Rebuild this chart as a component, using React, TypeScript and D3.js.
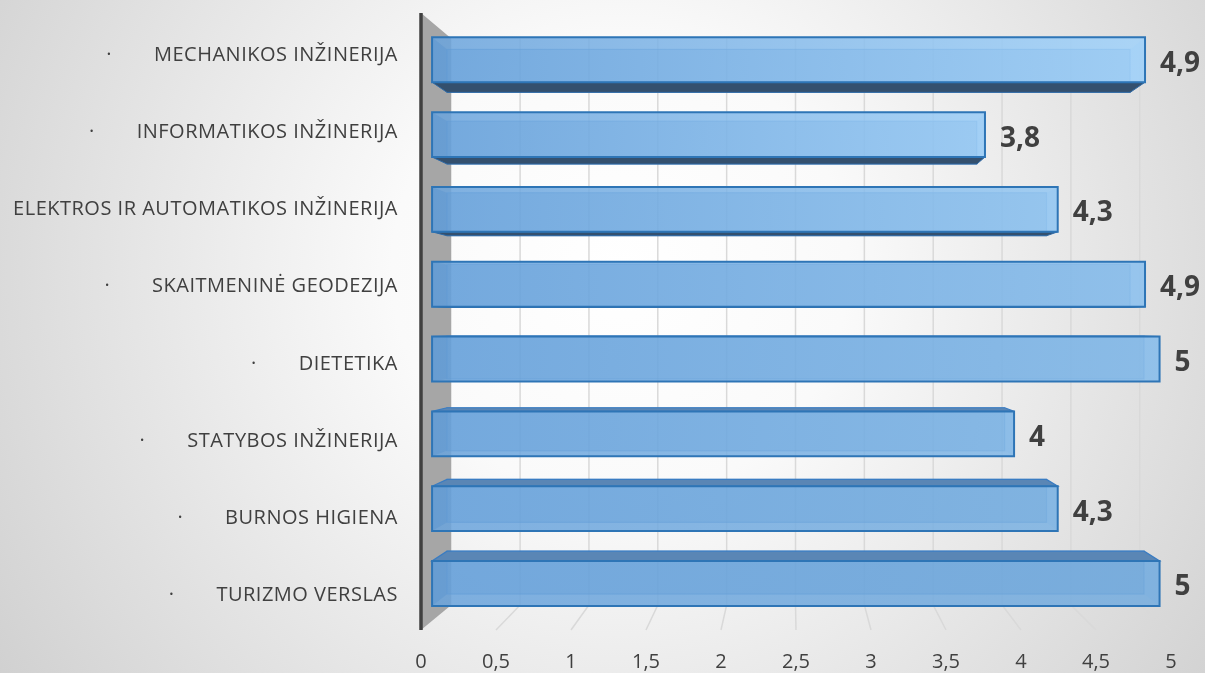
import React, { useRef, useEffect } from 'react';
import * as d3 from 'd3';

const categories = [
  'MECHANIKOS INŽINERIJA',
  'INFORMATIKOS INŽINERIJA',
  'ELEKTROS IR AUTOMATIKOS INŽINERIJA',
  'SKAITMENINĖ GEODEZIJA',
  'DIETETIKA',
  'STATYBOS INŽINERIJA',
  'BURNOS HIGIENA',
  'TURIZMO VERSLAS',
];
const values = [4.9, 3.8, 4.3, 4.9, 5, 4, 4.3, 5];
const valueLabels = ['4,9', '3,8', '4,3', '4,9', '5', '4', '4,3', '5'];
const tickValues = [0, 0.5, 1, 1.5, 2, 2.5, 3, 3.5, 4, 4.5, 5];
const tickLabels = ['0', '0,5', '1', '1,5', '2', '2,5', '3', '3,5', '4', '4,5', '5'];

const W = 1205;
const H = 673;
// perspective: vanishing point and depth scales (1 = front plane)
const VX = 790;
const VY = 325;
const S_WALL = 0.918;
const S_BAR_FRONT = 0.97;
const S_BAR_BACK = 0.9295;
const PLOT_LEFT = 421;
const PLOT_RIGHT = 1171;
const PLOT_TOP = 13;
const PLOT_BOTTOM = 630;

const App = () => {
  const ref = useRef<SVGSVGElement>(null);

  useEffect(() => {
    const svg = d3.select(ref.current);
    svg.selectAll('*').remove();

    const x = d3.scaleLinear().domain([0, 5]).range([PLOT_LEFT, PLOT_RIGHT]);
    const y = d3.scaleBand<string>()
      .domain(categories)
      .range([PLOT_TOP, PLOT_BOTTOM])
      .paddingInner(0.4)
      .paddingOuter(0.2);
    const bw = y.bandwidth();

    const proj = (v: number, yy: number, s: number): [number, number] =>
      [VX + (x(v) - VX) * s, VY + (yy - VY) * s];

    const defs = svg.append('defs');
    const bg = defs.append('radialGradient')
      .attr('id', 'bg')
      .attr('gradientUnits', 'userSpaceOnUse')
      .attr('cx', 620).attr('cy', 270).attr('r', 760);
    bg.append('stop').attr('offset', 0).attr('stop-color', '#ffffff');
    bg.append('stop').attr('offset', 0.3).attr('stop-color', '#fafafa');
    bg.append('stop').attr('offset', 1).attr('stop-color', '#cfcfcf');

    const rightColor = d3.interpolateRgb('#a2d3fb', '#72aadd');
    categories.forEach((c, i) => {
      const g = defs.append('linearGradient').attr('id', `bar${i}`)
        .attr('x1', 0).attr('x2', 1).attr('y1', 0).attr('y2', 0);
      g.append('stop').attr('offset', 0).attr('stop-color', '#66a0da');
      g.append('stop').attr('offset', 1).attr('stop-color', rightColor(i / (categories.length - 1)));
    });

    svg.append('rect').attr('width', W).attr('height', H).attr('fill', 'url(#bg)');

    // gridlines: back wall + floor
    const grid = svg.append('g')
      .attr('fill', 'none')
      .attr('stroke', '#d9d9d9')
      .attr('stroke-width', 1.5);
    tickValues.filter(t => t > 0).forEach(t => {
      grid.append('path').attr('d', d3.line()([
        proj(t, PLOT_TOP, S_WALL),
        proj(t, PLOT_BOTTOM, S_WALL),
        proj(t, PLOT_BOTTOM, 1),
      ]));
    });

    // side wall
    svg.append('path')
      .attr('d', d3.line()([
        proj(0, PLOT_TOP, 1),
        proj(0, PLOT_TOP, S_WALL),
        proj(0, PLOT_BOTTOM, S_WALL),
        proj(0, PLOT_BOTTOM, 1),
      ]) + 'Z')
      .attr('fill', '#a6a6a6');
    svg.append('path')
      .attr('d', d3.line()([proj(0, PLOT_TOP, 1), proj(0, PLOT_BOTTOM, 1)]))
      .attr('stroke', '#404040')
      .attr('stroke-width', 3.5);

    const poly = (pts: [number, number][]) => d3.line()(pts) + 'Z';

    const bars = svg.append('g');
    categories.forEach((c, i) => {
      const v = values[i];
      const y0 = y(c)!;
      const y1 = y0 + bw;
      const fTL = proj(0, y0, S_BAR_FRONT), fTR = proj(v, y0, S_BAR_FRONT);
      const fBL = proj(0, y1, S_BAR_FRONT), fBR = proj(v, y1, S_BAR_FRONT);
      const bTL = proj(0, y0, S_BAR_BACK), bTR = proj(v, y0, S_BAR_BACK);
      const bBL = proj(0, y1, S_BAR_BACK), bBR = proj(v, y1, S_BAR_BACK);
      const g = bars.append('g');

      // back face
      g.append('path').attr('d', poly([bTL, bTR, bBR, bBL]))
        .attr('fill', '#5b9bd5').attr('fill-opacity', 0.55)
        .attr('stroke', '#3e80c6').attr('stroke-opacity', 0.5).attr('stroke-width', 1.2);
      // inner faces seen through
      g.append('path').attr('d', poly([fTL, bTL, bBL, fBL]))
        .attr('fill', '#4281c0').attr('fill-opacity', 0.55);
      g.append('path').attr('d', poly([fTR, bTR, bBR, fBR]))
        .attr('fill', '#8ec4f2').attr('fill-opacity', 0.5);
      if (y1 < VY) {
        g.append('path').attr('d', poly([fTL, fTR, bTR, bTL]))
          .attr('fill', '#9ccbf2').attr('fill-opacity', 0.35);
      } else if (y0 > VY) {
        g.append('path').attr('d', poly([fBL, fBR, bBR, bBL]))
          .attr('fill', '#9ccbf2').attr('fill-opacity', 0.35);
      }
      // outer visible face
      if (y1 < VY) {
        g.append('path').attr('d', poly([fBL, fBR, bBR, bBL]))
          .attr('fill', '#34506e').attr('stroke', '#2f6aa6').attr('stroke-width', 1);
      } else if (y0 > VY) {
        g.append('path').attr('d', poly([fTL, fTR, bTR, bTL]))
          .attr('fill', '#5a86b5').attr('stroke', '#3a7cc2').attr('stroke-width', 1.2);
      }
      // front face
      g.append('path').attr('d', poly([fTL, fTR, fBR, fBL]))
        .attr('fill', `url(#bar${i})`).attr('fill-opacity', 0.78)
        .attr('stroke', '#2e75b6').attr('stroke-width', 2);

      svg.append('text')
        .attr('x', fTR[0] + 15)
        .attr('y', (fTR[1] + fBR[1]) / 2 + 1)
        .attr('dominant-baseline', 'central')
        .attr('font-family', '"Open Sans", sans-serif')
        .attr('font-weight', 700)
        .attr('font-size', 28)
        .attr('fill', '#404040')
        .text(valueLabels[i]);
    });

    // category labels with bullet (bullet falls off the page for the longest one)
    categories.forEach(c => {
      const cy = y(c)! + bw / 2;
      const t = svg.append('text')
        .attr('x', 398)
        .attr('y', cy + 2)
        .attr('text-anchor', 'end')
        .attr('dominant-baseline', 'central')
        .attr('font-family', '"Open Sans", sans-serif')
        .attr('font-size', 20)
        .attr('letter-spacing', 0.5)
        .attr('fill', '#404040')
        .text(c);
      const len = (t.node() as SVGTextElement).getComputedTextLength();
      const dotX = 398 - len - 45;
      if (dotX > 4) {
        svg.append('text')
          .attr('x', dotX)
          .attr('y', cy + 2)
          .attr('text-anchor', 'middle')
          .attr('dominant-baseline', 'central')
          .attr('font-family', '"Open Sans", sans-serif')
          .attr('font-size', 20)
          .attr('fill', '#404040')
          .text('·');
      }
    });

    // x axis tick labels
    svg.append('g')
      .selectAll('text')
      .data(tickValues)
      .join('text')
      .attr('x', d => x(d))
      .attr('y', 668)
      .attr('text-anchor', 'middle')
      .attr('font-family', '"Open Sans", sans-serif')
      .attr('font-size', 20)
      .attr('fill', '#404040')
      .text((d, i) => tickLabels[i]);
  }, []);

  return (
    <svg
      ref={ref}
      width={W}
      height={H}
      style={{ position: 'fixed', left: 0, top: 0, display: 'block' }}
    />
  );
};

export default App;
